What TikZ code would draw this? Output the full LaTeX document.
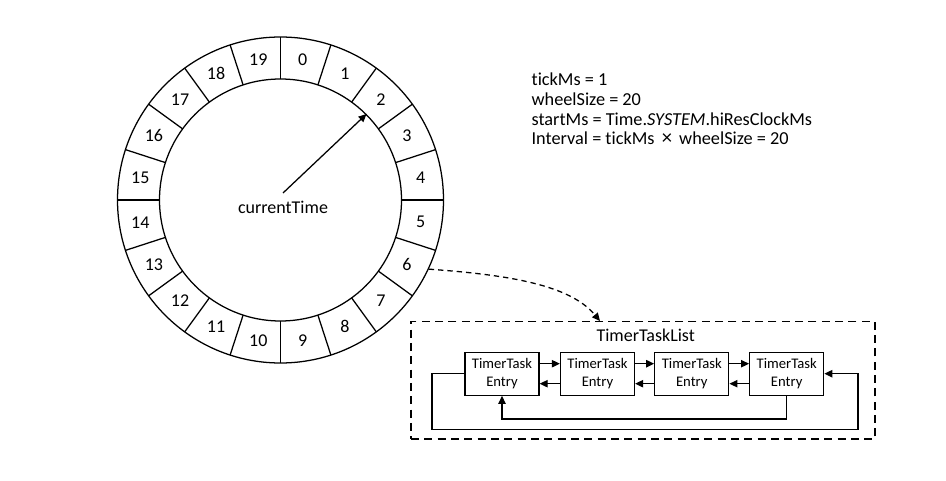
\documentclass[tikz,border=0pt]{standalone}
\usepackage{fontspec}
\setmainfont{Carlito}[Ligatures={NoCommon}]
\usetikzlibrary{arrows.meta,calc}
\begin{document}
\begin{tikzpicture}[x=0.75pt,y=-0.75pt,line width=0.95pt,
  arr/.style={-{Triangle[length=6pt,width=5.5pt]}},
  ring/.style={circle,draw,inner sep=0pt},
  numlab/.style={font=\fontsize{13.5}{15}\selectfont,inner sep=0pt},
  entry/.style={draw,minimum width=55.5pt,minimum height=32.25pt,inner sep=0pt,align=center,font=\fontsize{11}{13}\selectfont},
  listbox/.style={draw,dashed,dash pattern=on 6pt off 4pt,minimum width=348pt,minimum height=88pt,inner sep=0pt}]
\useasboundingbox (0,0) rectangle (946,481);
% wheel
\coordinate (c) at (280.5,200);
\node[ring,minimum size=244.5pt] (wheel) at (c) {};
\node[ring,minimum size=181.5pt] (hub) at (c) {};
\foreach \k in {0,...,19}{
  \draw ($(c)+(18*\k:121)$) -- ($(c)+(18*\k:163)$);
  \node[numlab] (n\k) at ($(c)+(18*\k-81:142)$) {\k};
}
\node[font=\fontsize{13.5}{15}\selectfont,inner sep=0pt] (ct) at (283,207) {currentTime};
\coordinate (cstart) at (283,193);
\draw[arr] (cstart) -- (hub.45);
% parameters
\node[anchor=base west,align=left,inner sep=0pt,font=\fontsize{13.7}{14.75}\selectfont] (params) at (531,145)
  {tickMs = 1\\wheelSize = 20\\startMs = Time.\textit{SYSTEM}.hiResClockMs\\Interval = tickMs \,{\fontsize{15.5}{14.75}\selectfont ×}\, wheelSize = 20};
% task list
\node[listbox] (list) at (643,380.3) {};
\node[font=\fontsize{13.5}{15}\selectfont,inner sep=0pt] (title) at (645.7,335) {TimerTaskList};
\node[entry] (e1) at (502,373.7) {TimerTask\\Entry};
\node[entry] (e2) at (597.5,373.7) {TimerTask\\Entry};
\node[entry] (e3) at (691.8,373.7) {TimerTask\\Entry};
\node[entry] (e4) at (786.7,373.7) {TimerTask\\Entry};
\foreach \a/\b in {e1/e2,e2/e3,e3/e4}{
  \draw[arr] ($(\a.east)+(0,-10)$) -- ($(\b.west)+(0,-10)$);
  \draw[arr] ($(\b.west)+(0,10)$) -- ($(\a.east)+(0,10)$);
}
\coordinate (lo1) at (432,429.3);
\coordinate (lo2) at (858,429.3);
\draw[arr] (e1.west) -| (lo1) -- (lo2) |- (e4.east);
\coordinate (il) at (650,419);
\draw[arr] (e4.south) |- (il) -| (e1.south);
% dashed pointer
\coordinate (ptip) at (600,321);
\draw[arr,dashed,dash pattern=on 4pt off 3pt] (wheel.-25) .. controls (510,275) and (570,285) .. (ptip);
\end{tikzpicture}
\end{document}
